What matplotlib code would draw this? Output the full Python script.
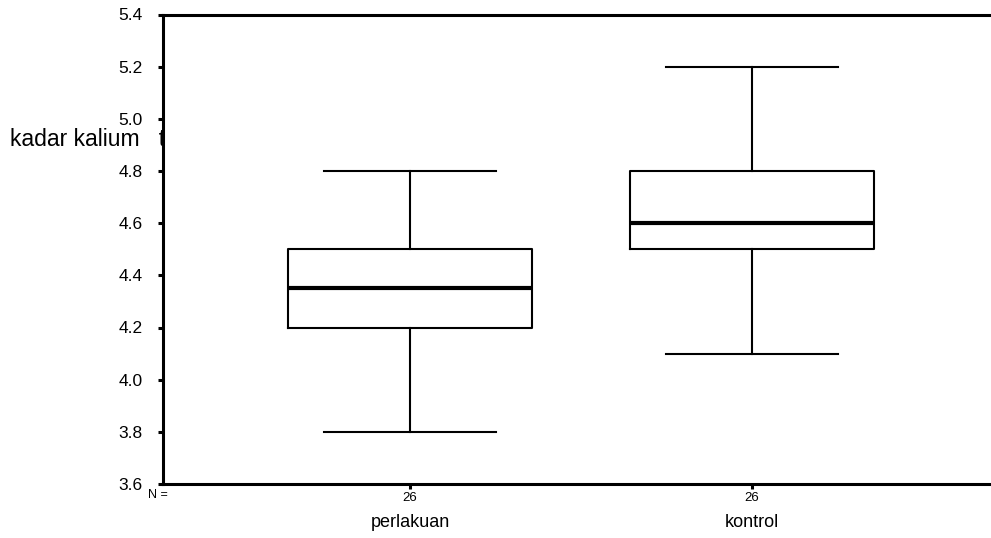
import matplotlib
matplotlib.use("Agg")
import matplotlib.pyplot as plt
import matplotlib.transforms as mtransforms

plt.rcParams["font.family"] = ["Liberation Sans", "DejaVu Sans"]

# ── data ─────────────────────────────
groups   = ["perlakuan", "kontrol"]
n_labels = ["26", "26"]
whislo   = [3.8, 4.1]
q1       = [4.2, 4.5]
med      = [4.35, 4.6]
q3       = [4.5, 4.8]
whishi   = [4.8, 5.2]

yticks = [3.6, 3.8, 4.0, 4.2, 4.4, 4.6, 4.8, 5.0, 5.2, 5.4]

stats = []
for i, g in enumerate(groups):
    stats.append(dict(label=g, whislo=whislo[i], q1=q1[i], med=med[i],
                      q3=q3[i], whishi=whishi[i], fliers=[]))

pos = [1, 2]

# ── figure ───────────────────────────
fig = plt.figure(figsize=(9.91, 5.38), dpi=100)
ax = fig.add_axes([163 / 991, 1 - 484 / 538, 1 - 163 / 991, (484 - 14.5) / 538])

ax.bxp(stats, positions=pos, widths=0.713, capwidths=0.503,
       showfliers=False, patch_artist=False,
       boxprops=dict(color="black", linewidth=1.5),
       whiskerprops=dict(color="black", linewidth=1.5),
       capprops=dict(color="black", linewidth=1.5),
       medianprops=dict(color="black", linewidth=3.0))

ax.set_xlim(0.278, 2.699)
ax.set_ylim(3.6, 5.4)
ax.set_yticks(yticks)
ax.set_yticklabels([f"{v:.1f}" for v in yticks], fontsize=12.5)
ax.set_xticks(pos)
ax.set_xticklabels(n_labels, fontsize=9.5)

ax.tick_params(axis="y", direction="out", length=3.5, width=2.2, pad=11, color="black")
ax.tick_params(axis="x", direction="out", length=3.5, width=2.2, pad=2, color="black")

for s in ["left", "bottom", "top"]:
    ax.spines[s].set_linewidth(2.2)
ax.spines["right"].set_visible(False)

# group names below the N counts
trans = mtransforms.blended_transform_factory(ax.transData, ax.transAxes)
for p, g in zip(pos, groups):
    ax.text(p, -0.081, g, transform=trans, ha="center", va="center", fontsize=13)
ax.text(0.263, -0.024, "N =", transform=trans, ha="center", va="center", fontsize=9)

# y label sits behind the plot area
fig.text(10 / 991, 1 - 140 / 538, "kadar kalium   t", ha="left", va="center",
         fontsize=16.5, zorder=-1)

fig.savefig("out.png", dpi=100)
